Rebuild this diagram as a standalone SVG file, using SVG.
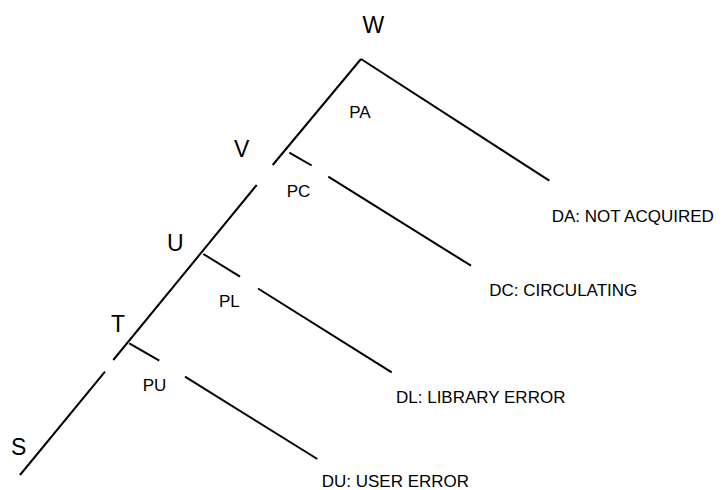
<svg xmlns="http://www.w3.org/2000/svg" width="724" height="490" viewBox="0 0 724 490">
  <style>
    .ln { stroke: #000; stroke-width: 2; fill: none; stroke-linecap: butt; }
    .big { font-family: "Liberation Sans", Arial, sans-serif; font-size: 23px; fill: #000; }
    .lbl { font-family: "Liberation Sans", Arial, sans-serif; font-size: 17px; fill: #000; }
  </style>
  <rect width="724" height="490" fill="#fff"/>

  <!-- tree edges -->
  <g id="connectors">
    <!-- main trunk, S up to W -->
    <line class="ln" x1="361" y1="59" x2="272.7" y2="165"/>
    <line class="ln" x1="256.7" y1="185" x2="113.3" y2="360"/>
    <line class="ln" x1="105" y1="371.7" x2="20" y2="475"/>
    <!-- W branch to DA -->
    <line class="ln" x1="361" y1="59" x2="549.3" y2="180.7"/>
    <!-- V branch to DC -->
    <line class="ln" x1="289.3" y1="152.7" x2="311.7" y2="165.5"/>
    <line class="ln" x1="328.3" y1="176.7" x2="471" y2="265.7"/>
    <!-- U branch to DL -->
    <line class="ln" x1="203.3" y1="254" x2="240" y2="276.7"/>
    <line class="ln" x1="258" y1="288.5" x2="391.7" y2="372.3"/>
    <!-- T branch to DU -->
    <line class="ln" x1="129.3" y1="343.3" x2="159.3" y2="360.7"/>
    <line class="ln" x1="185" y1="376.7" x2="317.3" y2="459"/>
  </g>

  <g id="node-W"><text class="big" x="362.5" y="33">W</text></g>
  <g id="node-V"><text class="big" x="234" y="156.7">V</text></g>
  <g id="node-U"><text class="big" x="167" y="250.7">U</text></g>
  <g id="node-T"><text class="big" x="111" y="332.3">T</text></g>
  <g id="node-S"><text class="big" x="11" y="455">S</text></g>

  <g id="edge-PA"><text class="lbl" x="349.3" y="118.3">PA</text></g>
  <g id="edge-PC"><text class="lbl" x="286.7" y="197.3">PC</text></g>
  <g id="edge-PL"><text class="lbl" x="219" y="307.3">PL</text></g>
  <g id="edge-PU"><text class="lbl" x="142.7" y="391.3">PU</text></g>

  <g id="node-DA"><text class="lbl" x="551.7" y="221.7">DA: NOT ACQUIRED</text></g>
  <g id="node-DC"><text class="lbl" x="489.3" y="296">DC: CIRCULATING</text></g>
  <g id="node-DL"><text class="lbl" x="396" y="403.3">DL: LIBRARY ERROR</text></g>
  <g id="node-DU"><text class="lbl" x="321.7" y="486.5">DU: USER ERROR</text></g>
</svg>
